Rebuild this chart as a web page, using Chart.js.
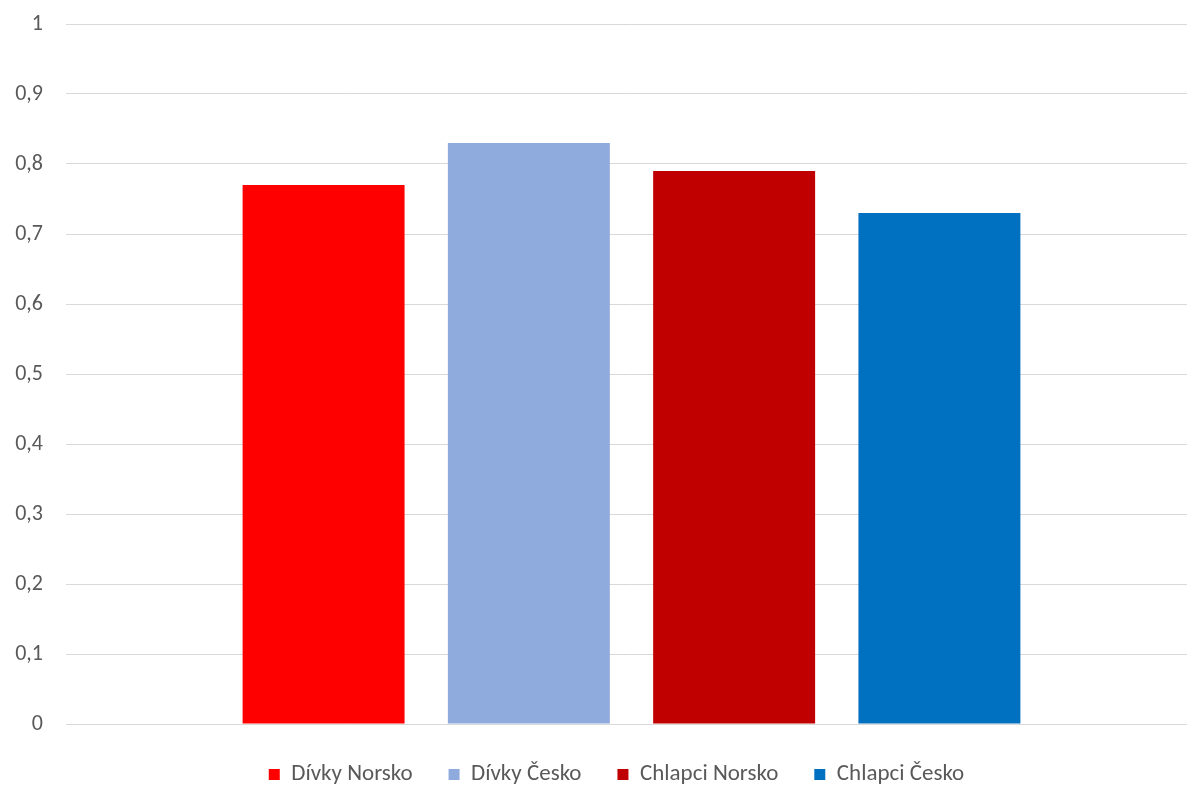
<!DOCTYPE html>
<html>
<head>
<meta charset="utf-8">
<script src="https://cdn.jsdelivr.net/npm/chart.js@4"></script>
<style>
  html, body { margin: 0; padding: 0; background: #fff; overflow: hidden; }
  #wrap { width: 1197px; height: 796px; }
</style>
</head>
<body>
<div id="wrap"><canvas id="c" width="1197" height="796"></canvas></div>
<script>
// Single category, one bar per group
const categories = [''];
const seriesNames = ['Dívky Norsko', 'Dívky Česko', 'Chlapci Norsko', 'Chlapci Česko'];
const divkyNorsko = [0.77];
const divkyCesko = [0.83];
const chlapciNorsko = [0.79];
const chlapciCesko = [0.73];
const seriesColors = ['#FF0000', '#8FAADC', '#C00000', '#0070C0'];
const yTicks = { min: 0, max: 1, step: 0.1 };

const seriesValues = [divkyNorsko, divkyCesko, chlapciNorsko, chlapciCesko];
const FONT = 'Carlito, Lato, sans-serif';

// Nudge the legend block so it sits centred under the whole figure
const legendShift = {
  id: 'legendShift',
  afterLayout(chart) {
    if (chart.legend) chart.legend.left += 21;
  }
};

new Chart(document.getElementById('c'), {
  type: 'bar',
  data: {
    labels: categories,
    datasets: seriesNames.map((name, i) => ({
      label: name,
      data: seriesValues[i],
      backgroundColor: seriesColors[i],
      borderWidth: 0,
      categoryPercentage: 0.726,
      barPercentage: 0.789
    }))
  },
  plugins: [legendShift],
  options: {
    responsive: false,
    animation: false,
    devicePixelRatio: 1,
    layout: { padding: { left: 15, right: 0, top: 24, bottom: 0 } },
    plugins: {
      tooltip: { enabled: false },
      legend: {
        position: 'bottom',
        labels: {
          boxWidth: 11,
          boxHeight: 11,
          padding: 36,
          color: '#595959',
          font: { family: FONT, size: 23 }
        }
      }
    },
    scales: {
      x: {
        display: true,
        border: { display: false },
        grid: { display: false, drawTicks: false },
        ticks: { display: false },
        afterFit: s => { s.height = 3; }
      },
      y: {
        min: yTicks.min,
        max: yTicks.max,
        border: { display: false },
        grid: { color: '#D9D9D9', lineWidth: 1, drawTicks: false },
        ticks: {
          stepSize: yTicks.step,
          padding: 23,
          color: '#595959',
          font: { family: FONT, size: 22 },
          callback: v => String(Math.round(v * 10) / 10).replace('.', ',')
        },
        afterFit: s => {
          s.width = 51;
          s.paddingTop = 0;
          s.paddingBottom = 0;
        }
      }
    }
  }
});
</script>
</body>
</html>
